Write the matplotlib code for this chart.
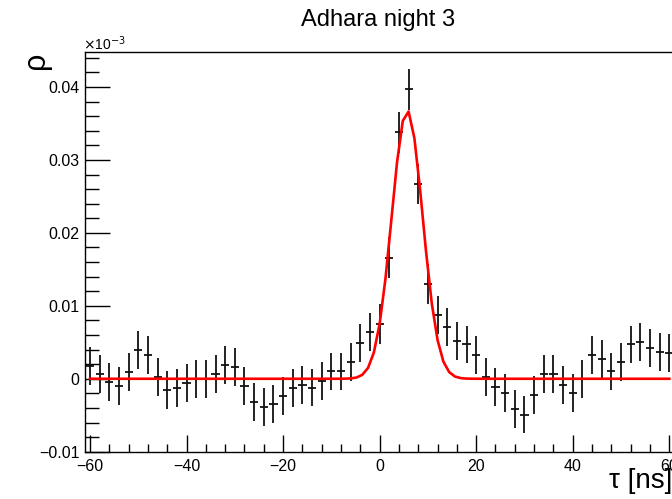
import numpy as np
import matplotlib
matplotlib.use("Agg")
import matplotlib.pyplot as plt
from matplotlib.ticker import MultipleLocator, FixedLocator

plt.rcParams['font.family'] = ['Liberation Sans', 'DejaVu Sans']

# ---- data ----
tau = np.arange(-60, 61, 2)
rho = np.array([
    0.0017, 0.0007, -0.0005, -0.0010, 0.0009, 0.0039, 0.0033, 0.0002, -0.0016, -0.0013,   # -60..-42
    -0.0006, 0.0000, 0.0000, 0.0007, 0.0019, 0.0016, -0.0010, -0.0032, -0.0039, -0.0034,   # -40..-22
    -0.0024, -0.0013, -0.0009, -0.0012, -0.0003, 0.0010, 0.0010, 0.0023, 0.0049, 0.0064,   # -20..-2
    0.0075, 0.0166, 0.0338, 0.0397, 0.0267, 0.0130, 0.0088, 0.0071, 0.0052, 0.0047,       # 0..18
    0.0032, 0.0003, -0.0011, -0.0020, -0.0042, -0.0049, -0.0022, 0.0006, 0.0006, -0.0009,  # 20..38
    -0.0019, 0.0000, 0.0032, 0.0027, 0.0010, 0.0023, 0.0047, 0.0051, 0.0042, 0.0037,      # 40..58
    0.0035,                                                                                # 60
])
rho_err = np.full(tau.shape, 0.0026)
rho_err[30:36] = 0.0028

# Gaussian fit parameters
fit_amp = 0.0368
fit_mean = 5.7
fit_sigma = 3.2

title = "Adhara night 3"
xlabel = "τ [ns]"
ylabel = "ρ"

# ---- figure ----
W, H = 672, 499
fig = plt.figure(figsize=(W / 100, H / 100), dpi=100)
left = 85.2 / W
right = 674.1 / W
bottom = (H - 451.7) / H
top = (H - 52) / H
ax = fig.add_axes([left, bottom, right - left, top - bottom])

ax.errorbar(tau, rho, yerr=rho_err, xerr=0.85, fmt='none', ecolor='#111111',
            elinewidth=1.3, capsize=0, zorder=2)

xf = np.linspace(-60, 60, 101)
yf = fit_amp * np.exp(-0.5 * ((xf - fit_mean) / fit_sigma) ** 2)
ax.plot(xf, yf, color='#ff0000', lw=1.9, zorder=3)

ax.set_xlim(-61, 61)
ax.set_ylim(-0.01, 0.0448)

ax.xaxis.set_major_locator(FixedLocator([-60, -40, -20, 0, 20, 40, 60]))
ax.xaxis.set_minor_locator(MultipleLocator(4))
ax.yaxis.set_major_locator(FixedLocator([-0.01, 0, 0.01, 0.02, 0.03, 0.04]))
ax.yaxis.set_minor_locator(MultipleLocator(0.002))

ax.set_xticklabels(['\u221260', '\u221240', '\u221220', '0', '20', '40', '60'])
ax.set_yticklabels(['\u22120.01', '0', '0.01', '0.02', '0.03', '0.04'])

ax.tick_params(which='both', direction='in', top=False, right=False,
               labelsize=11.5, width=1.0, colors='black')
ax.tick_params(axis='x', which='major', length=12, pad=5)
ax.tick_params(axis='x', which='minor', length=6)
ax.tick_params(axis='y', which='major', length=18, pad=4)
ax.tick_params(axis='y', which='minor', length=10)

for s in ax.spines.values():
    s.set_linewidth(1.0)

fig.text(378 / W, 1 - 20 / H, title, ha='center', va='center', fontsize=17)
fig.text(83 / W, 1 - 44 / H, r'$\times$10$^{-3}$', ha='left', va='center', fontsize=10)
fig.text(36 / W, 1 - 60 / H, ylabel, ha='center', va='center', fontsize=22, rotation=90)
fig.text(1.0, 1 - 481 / H, xlabel, ha='right', va='center', fontsize=20)

fig.savefig('out.png', dpi=100)
